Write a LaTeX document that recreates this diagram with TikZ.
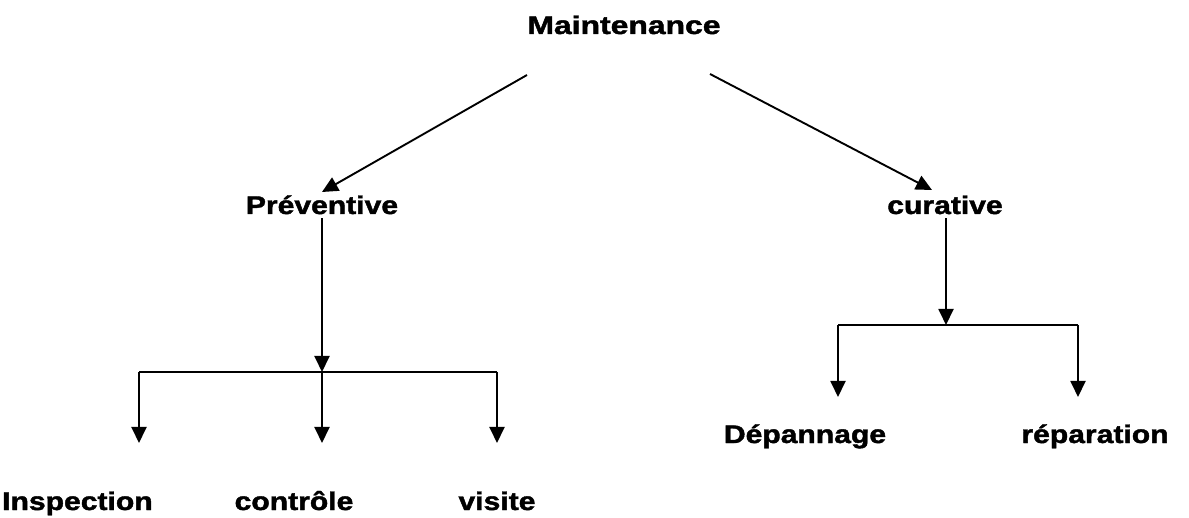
\documentclass[tikz,border=0pt]{standalone}
\usepackage{fontspec}
\usepackage{graphicx}
\setmainfont{Liberation Sans}[BoldFeatures={FakeBold=1.5}]
\usetikzlibrary{arrows.meta}
% bold label, widened horizontally
\newcommand{\widelbl}[2][1.18]{\scalebox{#1}[1]{#2}}
\begin{document}
\begin{tikzpicture}[x=1pt,y=-1pt,
  lbl/.style={font=\fontsize{25.5}{28}\selectfont\bfseries, inner sep=0pt, anchor=base},
  wire/.style={line width=1.9pt},
  arr/.style={wire, -{Triangle[length=16pt,width=15pt]}}]
\useasboundingbox (0,0) rectangle (1189,518);
% labels
\node[lbl] (m) at (624,34) {\widelbl[1.25]{Maintenance}};
\node[lbl] (p) at (322,214) {\widelbl{Préventive}};
\node[lbl] (c) at (945,214) {\widelbl{curative}};
\node[lbl, anchor=base west] (i1) at (2,510) {\widelbl{Inspection}};
\node[lbl] (i2) at (294,510) {\widelbl{contrôle}};
\node[lbl] (i3) at (497,510) {\widelbl{visite}};
\node[lbl] (d1) at (805,443) {\widelbl{Dépannage}};
\node[lbl] (d2) at (1095,443) {\widelbl{réparation}};
% junctions and arrow tips
\coordinate (ms) at (527,75);
\coordinate (me) at (710,74);
\coordinate (pt) at (322,192);
\coordinate (ct) at (932,190);
\coordinate (pj) at (322,372);
\coordinate (pl) at (139,372);
\coordinate (pr) at (497,372);
\coordinate (t1) at (139,443);
\coordinate (t2) at (322,443);
\coordinate (t3) at (497,443);
\coordinate (cj) at (946,325);
\coordinate (cl) at (838,325);
\coordinate (cr) at (1078,325);
\coordinate (u1) at (838,397);
\coordinate (u2) at (1078,397);
% connectors
\draw[arr] (ms) -- (pt);
\draw[arr] (me) -- (ct);
\draw[arr] (p.south -| pj) ++(0,4) -- (pj);
\draw[wire] (pl) -- (pr);
\draw[arr] (pl) -- (t1);
\draw[arr] (pj) -- (t2);
\draw[arr] (pr) -- (t3);
\draw[arr] (c.south -| cj) ++(0,4) -- (cj);
\draw[wire] (cl) -- (cr);
\draw[arr] (cl) -- (u1);
\draw[arr] (cr) -- (u2);
\end{tikzpicture}
\end{document}
